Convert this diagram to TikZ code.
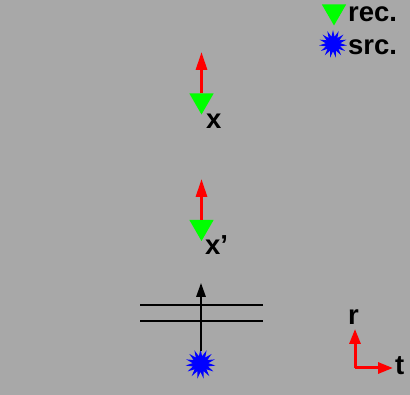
\documentclass[tikz,border=0pt]{standalone}
\usepackage{fontspec}
\setmainfont{Liberation Sans}
\usetikzlibrary{shapes.geometric,arrows.meta}
\definecolor{bg}{RGB}{168,168,168}
\definecolor{recgreen}{RGB}{0,255,0}
\definecolor{srcblue}{RGB}{0,0,255}
\definecolor{polred}{RGB}{255,0,0}
\begin{document}
\begin{tikzpicture}[x=1pt,y=-1pt,
  rec/.style={regular polygon, regular polygon sides=3, shape border rotate=180,
    fill=recgreen, draw=none, inner sep=0pt, outer sep=0pt, minimum size=28pt},
  src/.style={star, star points=15, star point ratio=1.9, fill=srcblue, draw=none,
    inner sep=0pt, outer sep=0pt, minimum size=30pt},
  lbl/.style={font=\bfseries\fontsize{27.5}{27.5}\selectfont, inner sep=0pt, anchor=base west},
  pol/.style={polred, line width=3pt, -{Triangle[length=18pt,width=11pt]}},
  axis/.style={polred, line width=3pt, -{Triangle[length=15pt,width=11pt]}},
  ray/.style={black, line width=1.6pt, -{Triangle[length=14pt,width=9.5pt]}},
  layer/.style={black, line width=1.5pt},
]
\fill[bg] (0,0) rectangle (410,395);
\useasboundingbox (0,0) rectangle (410,395);

% legend
\node[rec] (legrec) at (334,11.5) {};
\node[lbl] (legrectext) at (348,22) {rec.};
\node[src, minimum size=28pt] (legsrc) at (333,44) {};
\node[lbl] (legsrctext) at (348,55) {src.};

% receiver x
\node[rec] (r1) at (201.5,100.5) {};
\coordinate (p1) at (201.5,52);
\draw[pol] (r1.north) -- (p1);
\node[lbl] (lx) at (206,129) {x};

% receiver x'
\node[rec] (r2) at (201.5,227) {};
\coordinate (p2) at (201.5,179);
\draw[pol] (r2.north) -- (p2);
\node[lbl] (lx2) at (205,255) {x'};

% source and layers
\coordinate (l1a) at (140,305);
\coordinate (l1b) at (263,305);
\coordinate (l2a) at (140,321);
\coordinate (l2b) at (263,321);
\draw[layer] (l1a) -- (l1b);
\draw[layer] (l2a) -- (l2b);
\node[src] (s) at (200.5,364) {};
\coordinate (top) at (201,283);
\coordinate (sb) at (201,351);
\draw[ray] (sb) -- (top);

% axes
\coordinate (o) at (355,368);
\coordinate (ar) at (355,329);
\coordinate (at) at (393,368);
\draw[axis] (o) -- (ar);
\draw[axis] (o) -- (at);
\node[lbl] (lr) at (348,325) {r};
\node[lbl] (lt) at (395,375) {t};
\end{tikzpicture}
\end{document}
